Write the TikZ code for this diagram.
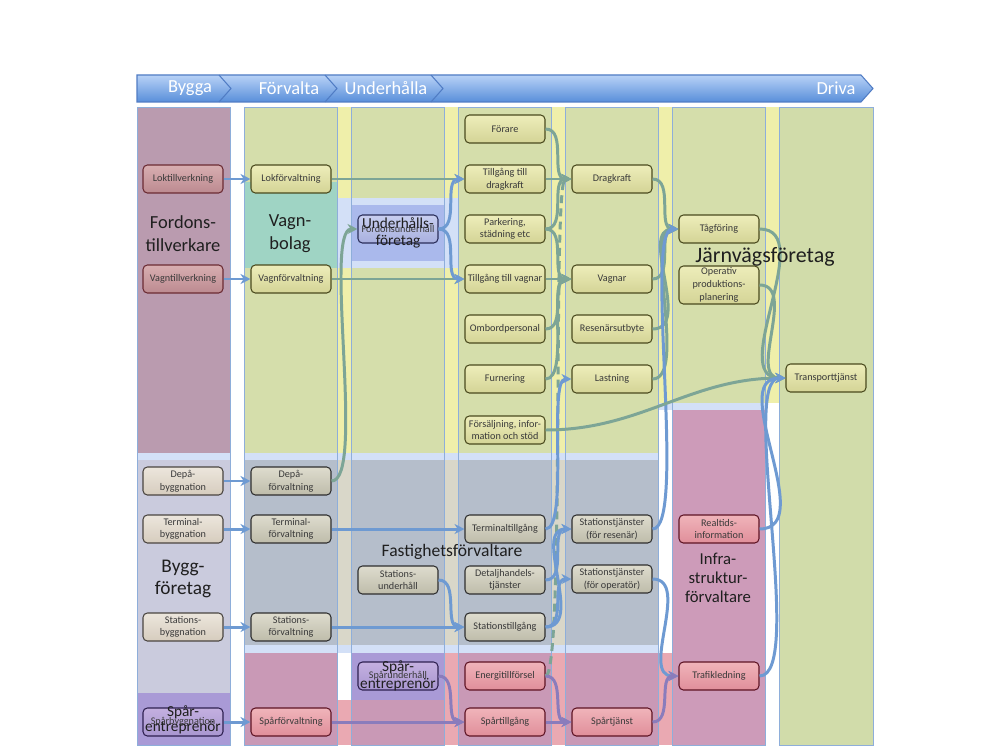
\documentclass[tikz,border=0pt]{standalone}
\usepackage{fontspec}
\setmainfont{Carlito}
\usetikzlibrary{positioning,arrows.meta}

\definecolor{yel}{HTML}{EFEFAA}
\definecolor{grn}{HTML}{D5DEAB}
\definecolor{mauv}{HTML}{BA9BAF}
\definecolor{lav}{HTML}{CACBDD}
\definecolor{purp}{HTML}{A99AD6}
\definecolor{teal}{HTML}{9FD4C4}
\definecolor{ublue}{HTML}{AAB9EC}
\definecolor{bgrey}{HTML}{B5BECB}
\definecolor{beige}{HTML}{D9D7C9}
\definecolor{pinkc}{HTML}{C999B6}
\definecolor{salm}{HTML}{EAA9B2}
\definecolor{infr}{HTML}{CD9BB9}
\definecolor{glow}{HTML}{D3E0F7}
\definecolor{colseven}{HTML}{D1DCAA}
\definecolor{colline}{HTML}{8EAEDA}
\definecolor{lngrn}{HTML}{7DA596}
\definecolor{lnblue}{HTML}{6E9AD2}
\definecolor{lnpurp}{HTML}{8A7CBC}
\definecolor{boxtext}{HTML}{3A3A3A}

\tikzset{
  box/.style={draw, rounded corners=2.5pt, line width=0.6pt, minimum width=1.6cm,
    minimum height=0.56cm, inner sep=1pt, align=center,
    font=\fontsize{5.8}{7.2}\selectfont, text=boxtext},
  yelbox/.style={box, top color={rgb,255:red,237;green,237;blue,186},
    bottom color={rgb,255:red,212;green,212;blue,150}, draw={rgb,255:red,74;green,74;blue,30}},
  redbox/.style={box, top color={rgb,255:red,216;green,174;blue,177},
    bottom color={rgb,255:red,188;green,138;blue,144}, draw={rgb,255:red,107;green,43;blue,51}},
  beigebox/.style={box, top color={rgb,255:red,236;green,230;blue,220},
    bottom color={rgb,255:red,214;green,204;blue,190}, draw={rgb,255:red,74;green,69;blue,64}},
  greybox/.style={box, top color={rgb,255:red,222;green,220;blue,206},
    bottom color={rgb,255:red,190;green,188;blue,170}, draw={rgb,255:red,46;green,46;blue,46}},
  bluebox/.style={box, top color={rgb,255:red,200;green,206;blue,240},
    bottom color={rgb,255:red,168;green,176;blue,222}, draw={rgb,255:red,42;green,46;blue,90}},
  purpbox/.style={box, top color={rgb,255:red,196;green,176;blue,224},
    bottom color={rgb,255:red,168;green,150;blue,208}, draw={rgb,255:red,46;green,32;blue,80}},
  pinkbox/.style={box, top color={rgb,255:red,240;green,180;blue,186},
    bottom color={rgb,255:red,224;green,142;blue,154}, draw={rgb,255:red,94;green,20;blue,36}},
  flow/.style={->, line width=1.7pt},
  grnflow/.style={flow, draw=lngrn},
  blueflow/.style={flow, draw=lnblue},
  purpflow/.style={flow, draw=lnpurp},
  group/.style={align=center, font=\fontsize{10.5}{13}\selectfont, text=black!88},
  hdrtext/.style={text=white, font=\fontsize{10.5}{12}\selectfont},
  column/.style={draw=colline, line width=0.5pt}
}

\begin{document}
\begin{tikzpicture}[x=0.02cm,y=-0.02cm,>={Stealth[length=2mm,width=2mm]}]
\useasboundingbox (0,0) rectangle (1000,750);
\fill[white] (0,0) rectangle (1000,750);

% gaps between the columns
\fill[yel] (337,107) rectangle (779,403);
\fill[yel] (337,403) rectangle (658,453);
\fill[glow] (337,198) rectangle (458,268);
\fill[glow] (137,453) rectangle (230,460);
\fill[glow] (244,453) rectangle (658,460);
\fill[glow] (658,403) rectangle (765,410);
\fill[beige] (337,460) rectangle (565,645);
\fill[glow] (244,645) rectangle (658,653);
\fill[salm] (444,653) rectangle (672,745);
\fill[salm] (337,700) rectangle (458,745);

% columns
\fill[mauv] (137,107) rectangle (230,453);
\fill[lav] (137,460) rectangle (230,693);
\fill[purp] (137,693) rectangle (230,745);
\fill[grn] (244,107) rectangle (337,453);
\fill[teal] (244,182) rectangle (337,268);
\fill[bgrey] (244,460) rectangle (337,645);
\fill[pinkc] (244,653) rectangle (337,745);
\fill[grn] (351,107) rectangle (444,453);
\fill[glow] (351,198) rectangle (444,268);
\fill[ublue] (351,205) rectangle (444,261);
\fill[bgrey] (351,460) rectangle (444,645);
\fill[purp] (351,653) rectangle (444,700);
\fill[pinkc] (351,700) rectangle (444,745);
\fill[grn] (458,107) rectangle (551,453);
\fill[bgrey] (458,460) rectangle (551,645);
\fill[pinkc] (458,653) rectangle (551,745);
\fill[grn] (565,107) rectangle (658,453);
\fill[bgrey] (565,460) rectangle (658,645);
\fill[pinkc] (565,653) rectangle (658,745);
\fill[grn] (672,107) rectangle (765,403);
\fill[infr] (672,410) rectangle (765,745);
\fill[colseven] (779,107) rectangle (873,745);
\foreach \xa/\xb in {137/230,244/337,351/444,458/551,565/658,672/765,779/873}
  \draw[column] (\xa,107) rectangle (\xb,745);

% header
\draw[draw={rgb,255:red,80;green,124;blue,196}, line width=0.6pt,
  top color={rgb,255:red,184;green,210;blue,246}, bottom color={rgb,255:red,88;green,142;blue,218}]
  (137,75) -- (861,75) -- (873,88.5) -- (861,102) -- (137,102) -- cycle;
\foreach \xt in {219,325,431}
  \draw[draw={rgb,255:red,80;green,124;blue,196}, line width=0.6pt] (\xt,75) -- (\xt+12,88.5) -- (\xt,102);
\node (hdbygga) [hdrtext] at (190,88) {Bygga};
\node (hdforv) [hdrtext] at (289,88) {Förvalta};
\node (hdunder) [hdrtext] at (386,88) {Underhålla};
\node (hddriva) [hdrtext] at (836,88) {Driva};

% bygga
\node (loktill) [redbox] at (183,179) {Loktillverkning};
\node (vagntill) [redbox] at (183,279) {Vagntillverkning};
\node (depabygg) [beigebox] at (183,481) {Depå-\\byggnation};
\node (termbygg) [beigebox] at (183,529) {Terminal-\\byggnation};
\node (statbygg) [beigebox] at (183,627) {Stations-\\byggnation};
\node (sparbygg) [purpbox] at (183,722) {Spårbyggnation};

% förvalta
\node (lokforv) [yelbox] at (291,179) {Lokförvaltning};
\node (vagnforv) [yelbox] at (291,279) {Vagnförvaltning};
\node (depaforv) [greybox] at (291,481) {Depå-\\förvaltning};
\node (termforv) [greybox] at (291,529) {Terminal-\\förvaltning};
\node (statforv) [greybox] at (291,627) {Stations-\\förvaltning};
\node (sparforv) [pinkbox] at (291,722) {Spårförvaltning};

% underhålla
\node (fordunder) [bluebox] at (398,229) {Fordonsunderhåll};
\node (statunder) [greybox] at (398,580) {Stations-\\underhåll};
\node (sparunder) [purpbox] at (398,676) {Spårunderhåll};

% driva
\node (forare) [yelbox] at (505,129) {Förare};
\node (tilldrag) [yelbox] at (505,179) {Tillgång till\\dragkraft};
\node (parkering) [yelbox] at (505,229) {Parkering,\\städning etc};
\node (tillvagn) [yelbox] at (505,279) {Tillgång till vagnar};
\node (ombord) [yelbox] at (505,329) {Ombordpersonal};
\node (furnering) [yelbox] at (505,379) {Furnering};
\node (forsalj) [yelbox] at (505,430) {Försäljning, infor-\\mation och stöd};
\node (termtill) [greybox] at (505,529) {Terminaltillgång};
\node (detalj) [greybox] at (505,580) {Detaljhandels-\\tjänster};
\node (stattill) [greybox] at (505,627) {Stationstillgång};
\node (energi) [pinkbox] at (505,676) {Energitillförsel};
\node (spartill) [pinkbox] at (505,722) {Spårtillgång};

\node (dragkraft) [yelbox] at (612,179) {Dragkraft};
\node (vagnar) [yelbox] at (612,279) {Vagnar};
\node (resenar) [yelbox] at (612,329) {Resenärsutbyte};
\node (lastning) [yelbox] at (612,379) {Lastning};
\node (stjres) [greybox] at (612,529) {Stationstjänster\\(för resenär)};
\node (stjop) [greybox] at (612,579) {Stationstjänster\\(för operatör)};
\node (spartjanst) [pinkbox] at (612,722) {Spårtjänst};

\node (tagforing) [yelbox] at (719,229) {Tågföring};
\node (operativ) [yelbox, minimum height=0.76cm] at (719,285) {Operativ\\produktions-\\planering};
\node (realtid) [pinkbox] at (719,529) {Realtids-\\information};
\node (trafik) [pinkbox] at (719,676) {Trafikledning};

\node (transport) [yelbox] at (826,378) {Transporttjänst};

% connectors
\draw[blueflow] (loktill) -- (lokforv);
\draw[blueflow] (vagntill) -- (vagnforv);
\draw[blueflow] (depabygg) -- (depaforv);
\draw[blueflow] (termbygg) -- (termforv);
\draw[blueflow] (statbygg) -- (statforv);
\draw[blueflow] (sparbygg) -- (sparforv);

\draw[grnflow] (lokforv) -- (tilldrag);
\draw[grnflow] (vagnforv) -- (tillvagn);
\draw[grnflow] (depaforv.east) to[out=0,in=180,looseness=0.35] (fordunder.west);
\draw[blueflow] (termforv) -- (termtill);
\draw[blueflow] (statforv) -- (stattill);
\draw[purpflow] (sparforv) -- (spartill);

\draw[blueflow] (fordunder.east) to[out=0,in=180] (tilldrag.west);
\draw[blueflow] (fordunder.east) to[out=0,in=180] (tillvagn.west);
\draw[blueflow] (statunder.east) to[out=0,in=180] (stattill.west);
\draw[purpflow] (sparunder.east) to[out=0,in=180] (spartill.west);

\draw[grnflow] (forare.east) to[out=0,in=180] (dragkraft.west);
\draw[grnflow] (tilldrag) -- (dragkraft);
\draw[grnflow] (parkering.east) to[out=0,in=180] (dragkraft.west);
\draw[grnflow] (parkering.east) to[out=0,in=180] (vagnar.west);
\draw[grnflow] (tillvagn) -- (vagnar);
\draw[grnflow] (ombord.east) to[out=0,in=180] (vagnar.west);
\draw[grnflow] (furnering.east) to[out=0,in=180,looseness=0.6] (vagnar.west);
\draw[grnflow,dash pattern=on 4.5pt off 3pt] (energi.east) to[out=0,in=180,looseness=0.1] (dragkraft.west);
\draw[blueflow] (termtill.east) to[out=0,in=180,looseness=0.4] (lastning.west);
\draw[blueflow] (detalj.east) to[out=0,in=180] (stjres.west);
\draw[blueflow] (stattill.east) to[out=0,in=180] (stjres.west);
\draw[blueflow] (stattill.east) to[out=0,in=180] (stjop.west);
\draw[purpflow] (energi.east) to[out=0,in=180] (spartjanst.west);
\draw[purpflow] (spartill) -- (spartjanst);

\draw[grnflow] (dragkraft.east) to[out=0,in=180] (tagforing.west);
\draw[grnflow] (vagnar.east) to[out=0,in=180] (tagforing.west);
\draw[grnflow] (resenar.east) to[out=0,in=180] (tagforing.west);
\draw[grnflow] (lastning.east) to[out=0,in=180,looseness=0.6] (tagforing.west);
\draw[blueflow] (stjres.east) to[out=0,in=180,looseness=0.3] (tagforing.west);
\draw[blueflow] (stjop.east) to[out=0,in=180] (trafik.west);
\draw[purpflow] (spartjanst.east) to[out=0,in=180] (trafik.west);

\draw[grnflow] (forsalj.east) to[out=0,in=180] (transport.west);
\draw[grnflow] (tagforing.east) to[out=0,in=180] (transport.west);
\draw[grnflow] (operativ.east) to[out=0,in=180] (transport.west);
\draw[blueflow] (realtid.east) to[out=0,in=180] (transport.west);
\draw[blueflow] (trafik.east) to[out=0,in=180,looseness=0.4] (transport.west);

% actors
\node (fordtill) [group] at (183,234) {Fordons-\\tillverkare};
\node (vagnbolag) [group] at (290,234) {Vagn-\\bolag};
\node (underhforetag) [group, font=\fontsize{8.7}{9.8}\selectfont] at (398,233) {Underhålls-\\företag};
\node (jarnvag) [group, font=\fontsize{12.5}{15}\selectfont] at (765,257) {Järnvägsföretag};
\node (byggforetag) [group, font=\fontsize{11}{13}\selectfont] at (183,579) {Bygg-\\företag};
\node (fastighet) [group, font=\fontsize{10}{12}\selectfont] at (452,552) {Fastighetsförvaltare};
\node (infra) [group, font=\fontsize{9.5}{11}\selectfont] at (718,578) {Infra-\\struktur-\\förvaltare};
\node (sparentr) [group, font=\fontsize{8.7}{8.8}\selectfont] at (183,720) {Spår-\\entreprenör};
\node (sparentrb) [group, font=\fontsize{8.7}{9.5}\selectfont] at (398,676) {Spår-\\entreprenör};
\end{tikzpicture}
\end{document}
